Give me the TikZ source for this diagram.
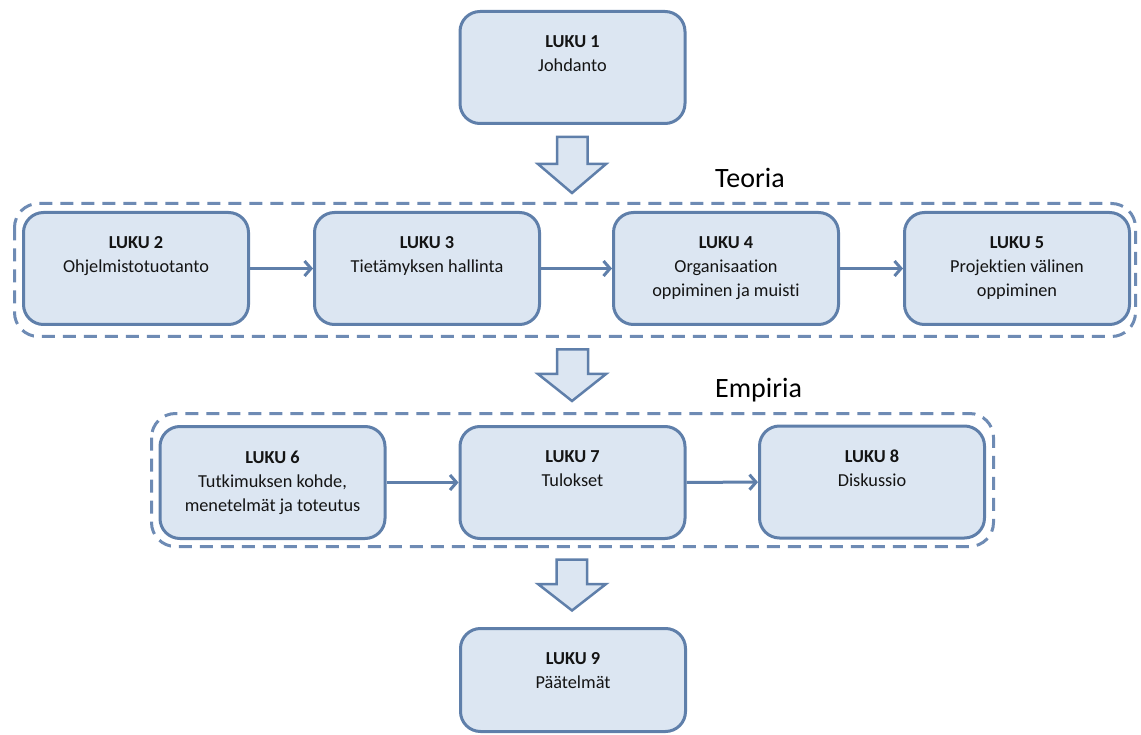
\documentclass[tikz,border=0pt]{standalone}
\usepackage{fontspec}
\setmainfont{Carlito}[Ligatures=NoCommon]
\usetikzlibrary{arrows.meta}
\definecolor{boxfill}{HTML}{DCE6F2}
\definecolor{boxline}{HTML}{5F7FAA}
\definecolor{groupline}{HTML}{6E8BB4}
\definecolor{inktext}{HTML}{141414}
\begin{document}
\begin{tikzpicture}[x=1pt,y=-1pt,
  chapter/.style={draw=boxline, fill=boxfill, line width=3pt, rounded corners=20pt,
    minimum width=225pt, minimum height=112pt, inner sep=0pt},
  chaptext/.style={anchor=north, inner sep=0pt, align=center,
    font=\fontsize{18.3}{24}\selectfont, text=inktext},
  group/.style={draw=groupline, line width=3pt, dash pattern=on 13pt off 8pt,
    rounded corners=24pt},
  link/.style={draw=boxline, line width=3pt,
    -{Straight Barb[length=6.5pt,width=15pt,line width=3pt]}},
  bigarrow/.style={draw=boxline, fill=boxfill, line width=2.5pt, line join=miter},
  grouptitle/.style={font=\fontsize{28}{32}\selectfont, anchor=base west,
    inner sep=0pt, text=black}]

\useasboundingbox (0,0) rectangle (1141,735);

% dashed group frames
\draw[group] (14.5,203.5) rectangle (1135.5,336.5);
\draw[group] (151.5,413.5) rectangle (993.5,546.5);
\node[grouptitle] (teoria) at (715,188) {Teoria};
\node[grouptitle] (empiria) at (715,398) {Empiria};

% chapter boxes
\node[chapter] (b1) at (572.5,67.5) {};
\node[chapter] (b2) at (136,268.5) {};
\node[chapter] (b3) at (427,268.5) {};
\node[chapter] (b4) at (726,268.5) {};
\node[chapter] (b5) at (1017,268.5) {};
\node[chapter] (b6) at (272.5,482.5) {};
\node[chapter] (b7) at (572.5,482.5) {};
\node[chapter] (b8) at (872,482) {};
\node[chapter, minimum height=103pt] (b9) at (573,680) {};

% chapter titles
\node[chaptext] (t1) at ([yshift=-25.5pt]b1.north) {\textbf{LUKU 1}\\Johdanto};
\node[chaptext] (t2) at ([yshift=-25.5pt]b2.north) {\textbf{LUKU 2}\\Ohjelmistotuotanto};
\node[chaptext] (t3) at ([yshift=-25.5pt]b3.north) {\textbf{LUKU 3}\\Tietämyksen hallinta};
\node[chaptext] (t4) at ([yshift=-25.5pt]b4.north) {\textbf{LUKU 4}\\Organisaation\\oppiminen ja muisti};
\node[chaptext] (t5) at ([yshift=-25.5pt]b5.north) {\textbf{LUKU 5}\\Projektien välinen\\oppiminen};
\node[chaptext] (t6) at ([yshift=-25.5pt]b6.north) {\textbf{LUKU 6}\\Tutkimuksen kohde,\\menetelmät ja toteutus};
\node[chaptext] (t7) at ([yshift=-25.5pt]b7.north) {\textbf{LUKU 7}\\Tulokset};
\node[chaptext] (t8) at ([yshift=-25.5pt]b8.north) {\textbf{LUKU 8}\\Diskussio};
\node[chaptext] (t9) at ([yshift=-25.5pt]b9.north) {\textbf{LUKU 9}\\Päätelmät};

% links inside the groups
\draw[link] (b2) -- (b3);
\draw[link] (b3) -- (b4);
\draw[link] (b4) -- (b5);
\draw[link] (b6) -- (b7);
\draw[link] (b7) -- (b8);

% block arrows between the stages
\draw[bigarrow] (557,137) -- (587.5,137) -- (587.5,164) -- (606,164) -- (572,193)
  -- (538,164) -- (557,164) -- cycle;
\draw[bigarrow] (557,349.5) -- (588,349.5) -- (588,374) -- (606,374) -- (572,401)
  -- (538,374) -- (557,374) -- cycle;
\draw[bigarrow] (556.5,559.5) -- (587,559.5) -- (587,584) -- (606,584) -- (572,610.5)
  -- (538,584) -- (556.5,584) -- cycle;
\end{tikzpicture}
\end{document}
